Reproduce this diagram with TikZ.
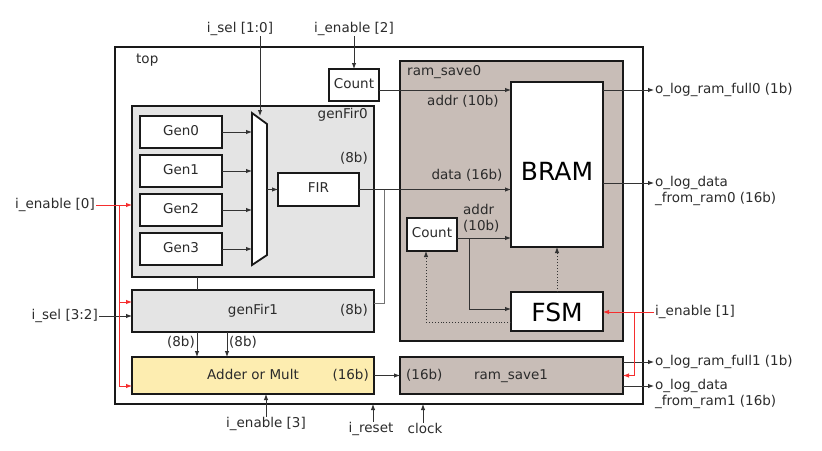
\documentclass[tikz,border=0pt]{standalone}
\usepackage{fontspec}
\setmainfont{DejaVu Sans}
\usetikzlibrary{arrows.meta,calc}
\definecolor{txt}{HTML}{2B2B2B}
\definecolor{lineC}{HTML}{333333}
\definecolor{greyFill}{HTML}{E4E4E4}
\definecolor{brownFill}{HTML}{C8BDB7}
\definecolor{yellowFill}{HTML}{FDEDB0}
\definecolor{redC}{HTML}{F52E2E}
\begin{document}
\begin{tikzpicture}[x=1pt,y=-1pt,
  box/.style={draw=black!90, line width=1.8pt, inner sep=0pt, outer sep=0pt, fill=white},
  lbl/.style={font=\fontsize{13.5}{16}\selectfont, text=txt, inner sep=1pt, text height=9.5pt, text depth=3pt},
  big/.style={font=\fontsize{25}{28}\selectfont, text=black, inner sep=0pt},
  conn/.style={draw=lineC, line width=0.9pt},
  arr/.style={conn, -{Latex[length=6pt,width=4.5pt]}},
  rarr/.style={draw=redC, line width=0.9pt, -{Latex[length=6pt,width=4.5pt]}},
  rline/.style={draw=redC, line width=0.9pt},
  dots/.style={draw=lineC, line width=0.9pt, dotted, -{Latex[length=6pt,width=4.5pt]}}
]
\useasboundingbox (0,0) rectangle (822,450);

% --- boxes
\node[box, minimum width=528, minimum height=357] (top) at (379,225.5) {};
\node[box, fill=brownFill, minimum width=223, minimum height=280] (rs0) at (511.5,201) {};
\node[box, fill=greyFill, minimum width=242, minimum height=171] (gf0) at (253,191.5) {};
\node[box, fill=greyFill, minimum width=242, minimum height=42] (gf1) at (253,311) {};
\node[box, fill=yellowFill, minimum width=242, minimum height=37] (adder) at (253,375.5) {};
\node[box, fill=brownFill, minimum width=223, minimum height=37] (rs1) at (511.5,375.5) {};
\node[box, minimum width=50, minimum height=32] (countA) at (354,85) {};
\node[box, minimum width=92, minimum height=165] (bram) at (557,164.5) {};
\node[box, minimum width=50, minimum height=33] (countB) at (432,234.5) {};
\node[box, minimum width=92, minimum height=39] (fsm) at (557,311.5) {};
\node[box, minimum width=82, minimum height=32] (gen0) at (181,132) {};
\node[box, minimum width=82, minimum height=32] (gen1) at (181,171) {};
\node[box, minimum width=82, minimum height=32] (gen2) at (181,210) {};
\node[box, minimum width=82, minimum height=32] (gen3) at (181,249) {};
\node[box, minimum width=81, minimum height=33] (fir) at (318.5,189.5) {};
% mux
\draw[box] (252,113) -- (267,124) -- (267,255) -- (252,265) -- cycle;
\coordinate (muxL) at (252,0);
\coordinate (muxR) at (267,0);
\coordinate (muxT) at (260,116);

% --- texts inside boxes
\node[lbl] at (countA) {Count};
\node[lbl] at (countB) {Count};
\node[lbl] at (gen0) {Gen0};
\node[lbl] at (gen1) {Gen1};
\node[lbl] at (gen2) {Gen2};
\node[lbl] at (gen3) {Gen3};
\node[lbl] at (fir) {FIR};
\node[big] (bramT) at (557,171) {BRAM};
\node[big] (fsmT) at (557,312) {FSM};
\node[lbl, anchor=west] (topT) at (135,60) {top};
\node[lbl, anchor=west] (rs0T) at (406,72) {ram\_save0};
\node[lbl, anchor=east] (gf0T) at (369,115) {genFir0};
\node[lbl, anchor=east] (gf0b) at (369,159) {(8b)};
\node[lbl] (gf1T) at (253,311) {genFir1};
\node[lbl, anchor=east] (gf1b) at (369,311) {(8b)};
\node[lbl] (addT) at (253,376) {Adder or Mult};
\node[lbl, anchor=east] (addb) at (370,376) {(16b)};
\node[lbl, anchor=west] (rs1b) at (405,376) {(16b)};
\node[lbl] (rs1T) at (511,376) {ram\_save1};
\node[lbl] (addrA) at (463,102) {addr (10b)};
\node[lbl] (dataT) at (467,176) {data (16b)};
\node[lbl, anchor=west] (addrB1) at (462,211) {addr};
\node[lbl, anchor=west] (addrB2) at (462,227) {(10b)};

% --- external labels
\node[lbl] (isel10) at (240,29) {i\_sel [1:0]};
\node[lbl] (ien2) at (354,29) {i\_enable [2]};
\node[lbl, anchor=east] (ien0) at (96,205) {i\_enable [0]};
\node[lbl, anchor=east] (isel32) at (99,316) {i\_sel [3:2]};
\node[lbl] (ien3) at (266,424) {i\_enable [3]};
\node[lbl] (ireset) at (371,429) {i\_reset};
\node[lbl] (clock) at (425,430) {clock};
\node[lbl, anchor=west] (olrf0) at (654,90) {o\_log\_ram\_full0 (1b)};
\node[lbl, anchor=west] (od0a) at (654,183) {o\_log\_data};
\node[lbl, anchor=west] (od0b) at (654,199) {\_from\_ram0 (16b)};
\node[lbl, anchor=west] (ien1) at (654,312) {i\_enable [1]};
\node[lbl, anchor=west] (olrf1) at (654,362) {o\_log\_ram\_full1 (1b)};
\node[lbl, anchor=west] (od1a) at (654,386) {o\_log\_data};
\node[lbl, anchor=west] (od1b) at (654,402) {\_from\_ram1 (16b)};

% --- connectors
\draw[arr] (isel10.south -| muxT) -- (muxT);
\draw[arr] (ien2.south -| countA.north) -- (countA.north);
\draw[arr] (olrf0.west -| countA.east) -- (olrf0.west -| bram.west);
\draw[arr] (olrf0.west -| bram.east) -- (olrf0.west);
\draw[arr] (od0a.west -| bram.east) -- (od0a.west);
\foreach \g in {gen0,gen1,gen2,gen3} \draw[arr] (\g.east) -- (\g.east -| muxL);
\draw[arr] (muxR |- fir.west) -- (fir.west);
\draw[arr] (fir.east) -- (fir.east -| bram.west);
\coordinate (fb) at (384,303);
\draw[conn, draw=black!55] (fir.east -| fb) -- (fb) -- (fb -| gf1.east);
\coordinate (v1) at (197,343);
\coordinate (v2) at (227,343);
\draw[conn] (gf0.south -| v1) -- (gf1.north -| v1);
\draw[arr] (gf1.south -| v1) -- (adder.north -| v1);
\draw[arr] (gf1.south -| v2) -- (adder.north -| v2);
\node[lbl, anchor=east] (b8a) at ([xshift=-1pt]v1) {(8b)};
\node[lbl, anchor=west] (b8b) at ([xshift=1pt]v2) {(8b)};
\draw[arr] (isel32.east) -- (isel32.east -| gf1.west);
\draw[arr] (adder.east) -- (rs1.west);
\draw[arr] (ien3.north) -- (ien3.north |- adder.south);
\draw[arr] (ireset.north -| 373,0) -- (373,0 |- top.south);
\draw[arr] (clock.north -| 423,0) -- (423,0 |- top.south);
\draw[arr] (olrf1.west -| rs1.east) -- (olrf1.west);
\draw[arr] (od1a.west -| rs1.east) -- (od1a.west);
% inside ram_save0
\coordinate (cb) at (469,238);
\coordinate (fsmIn) at (469,309);
\draw[arr] (cb -| countB.east) -- (cb -| bram.west);
\draw[arr] (cb) -- (fsmIn) -- (fsmIn -| fsm.west);
\coordinate (dt) at (426,322);
\draw[dots] (dt -| fsm.west) -- (dt) -- (dt |- countB.south);
\draw[dots] (fsm.north) -- (bram.south);
% red enables
\coordinate (rv) at (119,0);
\draw[rarr] (ien0.east) -- (ien0.east -| gf0.west);
\draw[rline] (rv |- ien0.east) -- (rv |- 0,386);
\draw[rarr] (rv |- 0,302) -- (gf1.west |- 0,302);
\draw[rarr] (rv |- 0,386) -- (adder.west |- 0,386);
\coordinate (rv2) at (634,0);
\draw[rarr] (ien1.west) -- (ien1.west -| fsm.east);
\draw[rline] (rv2 |- ien1.west) -- (rv2 |- rs1.east);
\draw[rarr] (rv2 |- rs1.east) -- (rs1.east);
\end{tikzpicture}
\end{document}
